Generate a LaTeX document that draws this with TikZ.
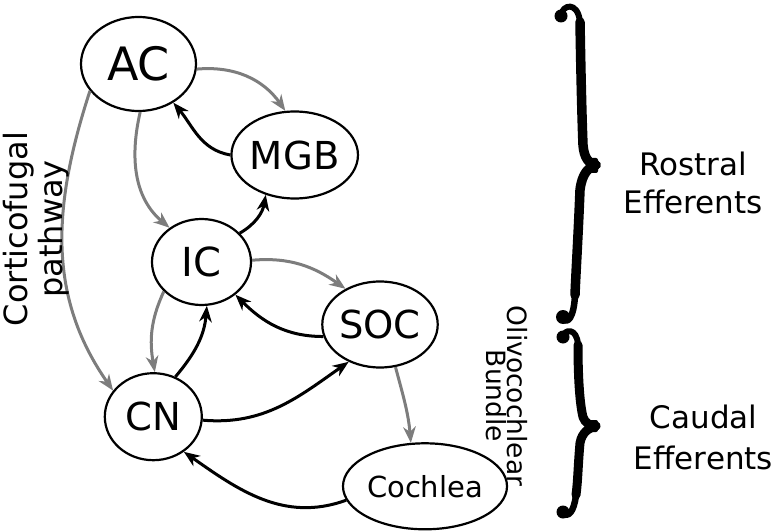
\documentclass[tikz,border=0pt]{standalone}
\usepackage{fontspec}
\setmainfont{DejaVu Sans}
\usetikzlibrary{shapes.geometric, arrows.meta}
\definecolor{effgray}{RGB}{125,125,125}
\begin{document}
\begin{tikzpicture}[x=1pt,y=1pt,
  region/.style={draw, ellipse, line width=2.2pt, inner sep=0pt},
  tipstyle/.style={-{Stealth[length=16pt,width=12.5pt,inset=5pt]}},
  efferent/.style={draw=effgray, line width=3pt, tipstyle, effgray},
  afferent/.style={draw=black, line width=3pt, tipstyle},
  sidelabel/.style={align=center, inner sep=0pt},
  bracestroke/.style={line cap=round, line join=round}
]
\useasboundingbox (0,0) rectangle (776,531);

% regions
\node[region, minimum width=115pt, minimum height=94pt, font=\fontsize{46}{54}\selectfont] (AC) at (138.5,467) {AC};
\node[region, minimum width=99pt, minimum height=87pt, font=\fontsize{38.5}{46}\selectfont] (MGB) at (294.7,376) {MGB};
\node[region, minimum width=99pt, minimum height=86pt, font=\fontsize{40}{46}\selectfont] (IC) at (201.5,269) {IC};
\node[region, minimum width=97pt, minimum height=86pt, font=\fontsize{38.5}{46}\selectfont] (SOC) at (380,206.5) {SOC};
\node[region, minimum width=97pt, minimum height=87pt, font=\fontsize{38.5}{46}\selectfont] (CN) at (153.3,114.3) {CN};
\node[region, minimum width=125pt, minimum height=86pt, font=\fontsize{29}{34}\selectfont] (Cochlea) at (425,44.7) {Cochlea};

% efferent (gray) connectors
\draw[efferent] (AC.-5) to[out=5, in=125] (MGB.102);
\draw[efferent] (AC.-88) to[out=-103, in=140] (IC.133);
\draw[efferent] (AC.209) to[out=-108, in=125] (CN.147);
\draw[efferent] (IC.2.5) to[out=5, in=145] (SOC.134);
\draw[efferent] (IC.218) to[out=-115, in=100] (CN.88);
\draw[efferent] (SOC.-70.6) to[out=-75, in=95] (Cochlea.108);

% afferent (black) connectors
\draw[afferent] (MGB.180) to[out=170, in=-50] (AC.-48.5);
\draw[afferent] (IC.37) to[out=30, in=-100] (MGB.-126);
\draw[afferent] (SOC.192) to[out=180, in=-45] (IC.-44.6);
\draw[afferent] (CN.61) to[out=50, in=-95] (IC.-83);
\draw[afferent] (CN.-4) to[out=-5, in=-145] (SOC.-130);
\draw[afferent] (Cochlea.190) to[out=200, in=-35] (CN.-49);

% labels
\node[sidelabel, rotate=90, anchor=north, font=\fontsize{32}{35}\selectfont] (cortico) at (3,302) {Corticofugal\\pathway};
\node[sidelabel, rotate=-90, anchor=north, font=\fontsize{26.5}{21.5}\selectfont] (olivo) at (528,135) {Olivocochlear\\Bundle};
\node[sidelabel, anchor=north, font=\fontsize{31}{38}\selectfont] (rostral) at (693,379.6) {Rostral\\Efferents};
\node[sidelabel, anchor=north, font=\fontsize{31}{41}\selectfont] (caudal) at (703.5,126.6) {Caudal\\Efferents};

% braces
\begin{scope}[shift={(0,531)}, yscale=-1]
  % top brace
  \draw[bracestroke, line width=6pt] (561,16) .. controls (562,4) and (578,1) .. (580,22);
  \draw[bracestroke, line width=9.5pt] (580,22) .. controls (581,80) and (582,120) .. (583,145) .. controls (584,158) and (589,164) .. (596,165);
  \draw[bracestroke, line width=9.5pt] (596,165) .. controls (589,167) and (582,173) .. (580,190) .. controls (578,240) and (576,270) .. (575,295);
  \draw[bracestroke, line width=6.5pt] (575,295) .. controls (574,318) and (567,325) .. (563,318);
  \fill (561,16) circle (6.5);
  \fill (563,317) circle (7);
  \fill[rounded corners=2pt] (587,158) rectangle (598,173);
  % bottom brace
  \draw[bracestroke, line width=6pt] (563,337) .. controls (564,329) and (577,327) .. (578,345);
  \draw[bracestroke, line width=9pt] (578,345) .. controls (578,380) and (580,405) .. (583,417) .. controls (585,423) and (590,426) .. (596,426);
  \draw[bracestroke, line width=9pt] (596,426) .. controls (589,428) and (582,432) .. (580,443) .. controls (578,465) and (578,480) .. (576,495);
  \draw[bracestroke, line width=6.5pt] (576,495) .. controls (574,512) and (568,518) .. (563,513);
  \fill (563,337) circle (6.5);
  \fill (563,512) circle (6.5);
  \fill[rounded corners=2pt] (587,420) rectangle (598,432);
\end{scope}
\end{tikzpicture}
\end{document}
